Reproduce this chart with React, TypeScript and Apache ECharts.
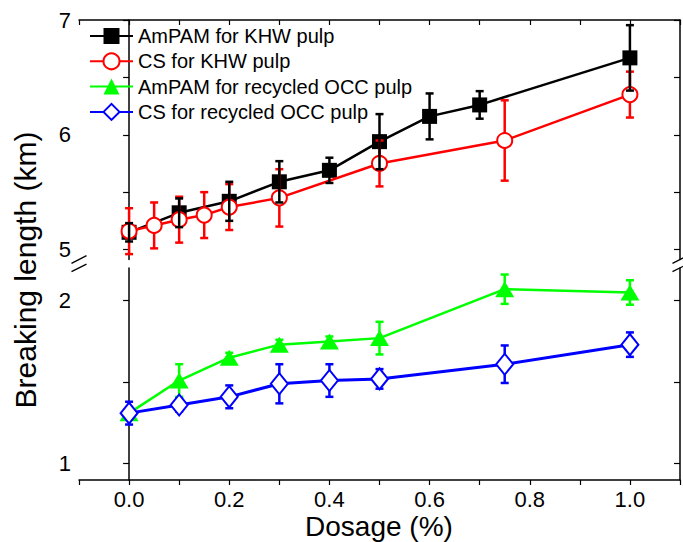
import React, { useEffect, useRef } from "react";
import * as echarts from "echarts";

// ---- data ----
const khwAmpamX = [0, 0.1, 0.2, 0.3, 0.4, 0.5, 0.6, 0.7, 1.0];
const khwAmpamY = [5.15, 5.32, 5.42, 5.59, 5.69, 5.94, 6.16, 6.26, 6.67];
const khwAmpamErr = [0.08, 0.125, 0.17, 0.18, 0.11, 0.24, 0.2, 0.12, 0.285];

const khwCsX = [0, 0.05, 0.1, 0.15, 0.2, 0.3, 0.5, 0.75, 1.0];
const khwCsY = [5.16, 5.21, 5.26, 5.3, 5.37, 5.45, 5.75, 5.95, 6.35];
const khwCsErr = [0.2, 0.2, 0.2, 0.2, 0.2, 0.25, 0.2, 0.35, 0.2];

const occAmpamX = [0, 0.1, 0.2, 0.3, 0.4, 0.5, 0.75, 1.0];
const occAmpamY = [1.31, 1.51, 1.65, 1.73, 1.75, 1.77, 2.07, 2.05];
const occAmpamErr = [0.03, 0.1, 0.03, 0.03, 0.03, 0.1, 0.09, 0.075];

const occCsX = [0, 0.1, 0.2, 0.3, 0.4, 0.5, 0.75, 1.0];
const occCsY = [1.31, 1.36, 1.41, 1.49, 1.51, 1.52, 1.61, 1.73];
const occCsErr = [0.07, 0.04, 0.07, 0.12, 0.1, 0.06, 0.115, 0.075];

const seriesNames = [
  "AmPAM for KHW pulp",
  "CS for KHW pulp",
  "AmPAM for recycled OCC pulp",
  "CS for recycled OCC pulp",
];

const xTicks = [-0.1, 0, 0.1, 0.2, 0.3, 0.4, 0.5, 0.6, 0.7, 0.8, 0.9, 1.0, 1.1];
const xLabels = [0, 0.2, 0.4, 0.6, 0.8, 1.0];
const topYTicks = [5, 5.5, 6, 6.5, 7];
const topYLabels = [5, 6, 7];
const botYTicks = [1, 1.5, 2];
const botYLabels = [1, 2];

const FONT = "Liberation Sans";

function pairs(xs: number[], ys: number[]) {
  return xs.map((x, i) => [x, ys[i]]);
}
function triples(xs: number[], ys: number[], es: number[]) {
  return xs.map((x, i) => [x, ys[i], es[i]]);
}

function errSeries(
  data: number[][],
  color: string,
  xi: number,
  yi: number,
  width: number,
  z: number
) {
  return {
    type: "custom",
    xAxisIndex: xi,
    yAxisIndex: yi,
    z,
    silent: true,
    encode: { x: 0, y: 1 },
    data,
    renderItem: (_p: any, api: any) => {
      const x = api.value(0);
      const y = api.value(1);
      const e = api.value(2);
      const t = api.coord([x, y + e]);
      const b = api.coord([x, y - e]);
      const hw = 4;
      const st = { stroke: color, lineWidth: width };
      return {
        type: "group",
        children: [
          { type: "line", shape: { x1: t[0], y1: t[1], x2: b[0], y2: b[1] }, style: st },
          { type: "line", shape: { x1: t[0] - hw, y1: t[1], x2: t[0] + hw, y2: t[1] }, style: st },
          { type: "line", shape: { x1: b[0] - hw, y1: b[1], x2: b[0] + hw, y2: b[1] }, style: st },
        ],
      };
    },
  };
}

export default function App() {
  const ref = useRef<HTMLDivElement>(null);
  useEffect(() => {
    document.body.style.margin = "0";
    if (!ref.current) return;
    const chart = echarts.init(ref.current, undefined, { renderer: "svg" });
    const axisLine = { show: true, lineStyle: { color: "#000", width: 1.5 } };
    const labelStyle = { color: "#000", fontSize: 22, fontFamily: FONT };
    const option: any = {
      animation: false,
      backgroundColor: "#fff",
      grid: [
        { left: 79, right: 3, top: 20, height: 239.5 },
        { left: 79, right: 3, top: 268, height: 212 },
      ],
      legend: {
        data: seriesNames,
        orient: "vertical",
        left: 89,
        top: 26,
        padding: 0,
        itemWidth: 43,
        itemHeight: 20,
        itemGap: 5.3,
        textStyle: { color: "#000", fontSize: 20, fontFamily: FONT },
      },
      xAxis: [
        {
          type: "value",
          gridIndex: 0,
          position: "top",
          min: -0.1,
          max: 1.1,
          axisLine,
          axisTick: { show: true, inside: true, length: 5, customValues: xTicks, lineStyle: { color: "#000", width: 1.2 } },
          axisLabel: { show: false },
          splitLine: { show: false },
        },
        {
          type: "value",
          gridIndex: 1,
          position: "bottom",
          min: -0.1,
          max: 1.1,
          axisLine,
          axisTick: { show: true, inside: false, length: 5, customValues: xTicks, lineStyle: { color: "#000", width: 1.2 } },
          axisLabel: {
            ...labelStyle,
            customValues: xLabels,
            margin: 8,
            formatter: (v: number) => v.toFixed(1),
          },
          splitLine: { show: false },
        },
      ],
      yAxis: [
        {
          type: "value",
          gridIndex: 0,
          position: "left",
          min: 4.913,
          max: 7,
          axisLine,
          axisTick: { show: true, inside: false, length: 6, customValues: topYTicks, lineStyle: { color: "#000", width: 1.2 } },
          axisLabel: { ...labelStyle, customValues: topYLabels, margin: 8 },
          splitLine: { show: false },
        },
        {
          type: "value",
          gridIndex: 0,
          position: "right",
          min: 4.913,
          max: 7,
          axisLine,
          axisTick: { show: true, inside: true, length: 6, customValues: topYTicks, lineStyle: { color: "#000", width: 1.2 } },
          axisLabel: { show: false },
          splitLine: { show: false },
        },
        {
          type: "value",
          gridIndex: 1,
          position: "left",
          min: 0.9,
          max: 2.2,
          axisLine,
          axisTick: { show: true, inside: false, length: 6, customValues: botYTicks, lineStyle: { color: "#000", width: 1.2 } },
          axisLabel: { ...labelStyle, customValues: botYLabels, margin: 8 },
          splitLine: { show: false },
        },
        {
          type: "value",
          gridIndex: 1,
          position: "right",
          min: 0.9,
          max: 2.2,
          axisLine,
          axisTick: { show: true, inside: true, length: 6, customValues: botYTicks, lineStyle: { color: "#000", width: 1.2 } },
          axisLabel: { show: false },
          splitLine: { show: false },
        },
      ],
      series: [
        {
          name: seriesNames[0],
          type: "line",
          xAxisIndex: 0,
          yAxisIndex: 0,
          z: 2,
          data: pairs(khwAmpamX, khwAmpamY),
          symbol: "rect",
          symbolSize: 15,
          lineStyle: { color: "#000", width: 2.5 },
          itemStyle: { color: "#000" },
        },
        errSeries(triples(khwCsX, khwCsY, khwCsErr), "#ff0000", 0, 0, 2.5, 3),
        {
          name: seriesNames[1],
          type: "line",
          xAxisIndex: 0,
          yAxisIndex: 0,
          z: 4,
          data: pairs(khwCsX, khwCsY),
          symbol: "circle",
          symbolSize: 15,
          lineStyle: { color: "#ff0000", width: 2.5 },
          itemStyle: { color: "#fff", borderColor: "#ff0000", borderWidth: 2 },
        },
        errSeries(triples(khwAmpamX, khwAmpamY, khwAmpamErr), "#000000", 0, 0, 2.5, 5),
        errSeries(triples(occAmpamX, occAmpamY, occAmpamErr), "#00ff00", 1, 2, 2.5, 2),
        {
          name: seriesNames[2],
          type: "line",
          xAxisIndex: 1,
          yAxisIndex: 2,
          z: 2,
          data: pairs(occAmpamX, occAmpamY),
          symbol: "triangle",
          symbolSize: [19, 16],
          lineStyle: { color: "#00ff00", width: 2.5 },
          itemStyle: { color: "#00ff00" },
        },
        errSeries(triples(occCsX, occCsY, occCsErr), "#0000ff", 1, 2, 2.5, 3),
        {
          name: seriesNames[3],
          type: "line",
          xAxisIndex: 1,
          yAxisIndex: 2,
          z: 4,
          data: pairs(occCsX, occCsY),
          symbol: "diamond",
          symbolSize: [17, 21],
          lineStyle: { color: "#0000ff", width: 3 },
          itemStyle: { color: "#fff", borderColor: "#0000ff", borderWidth: 2 },
        },
      ],
      graphic: [
        {
          type: "text",
          x: 25,
          y: 270,
          rotation: Math.PI / 2,
          style: {
            text: "Breaking length (km)",
            fontSize: 30,
            fontFamily: FONT,
            fill: "#000",
            textAlign: "center",
            textVerticalAlign: "middle",
          },
        },
        {
          type: "text",
          x: 379,
          y: 526,
          style: {
            text: "Dosage (%)",
            fontSize: 28,
            fontFamily: FONT,
            fill: "#000",
            textAlign: "center",
            textVerticalAlign: "middle",
          },
        },
        { type: "line", shape: { x1: 71.5, y1: 263.3, x2: 86.5, y2: 255.7 }, style: { stroke: "#000", lineWidth: 1.3 } },
        { type: "line", shape: { x1: 71.5, y1: 271.7, x2: 86.5, y2: 264.1 }, style: { stroke: "#000", lineWidth: 1.3 } },
        { type: "line", shape: { x1: 672.5, y1: 263.3, x2: 687.5, y2: 255.7 }, style: { stroke: "#000", lineWidth: 1.3 } },
        { type: "line", shape: { x1: 672.5, y1: 271.7, x2: 687.5, y2: 264.1 }, style: { stroke: "#000", lineWidth: 1.3 } },
      ],
    };
    chart.setOption(option);
    return () => chart.dispose();
  }, []);
  return <div ref={ref} style={{ width: 683, height: 542 }} />;
}
